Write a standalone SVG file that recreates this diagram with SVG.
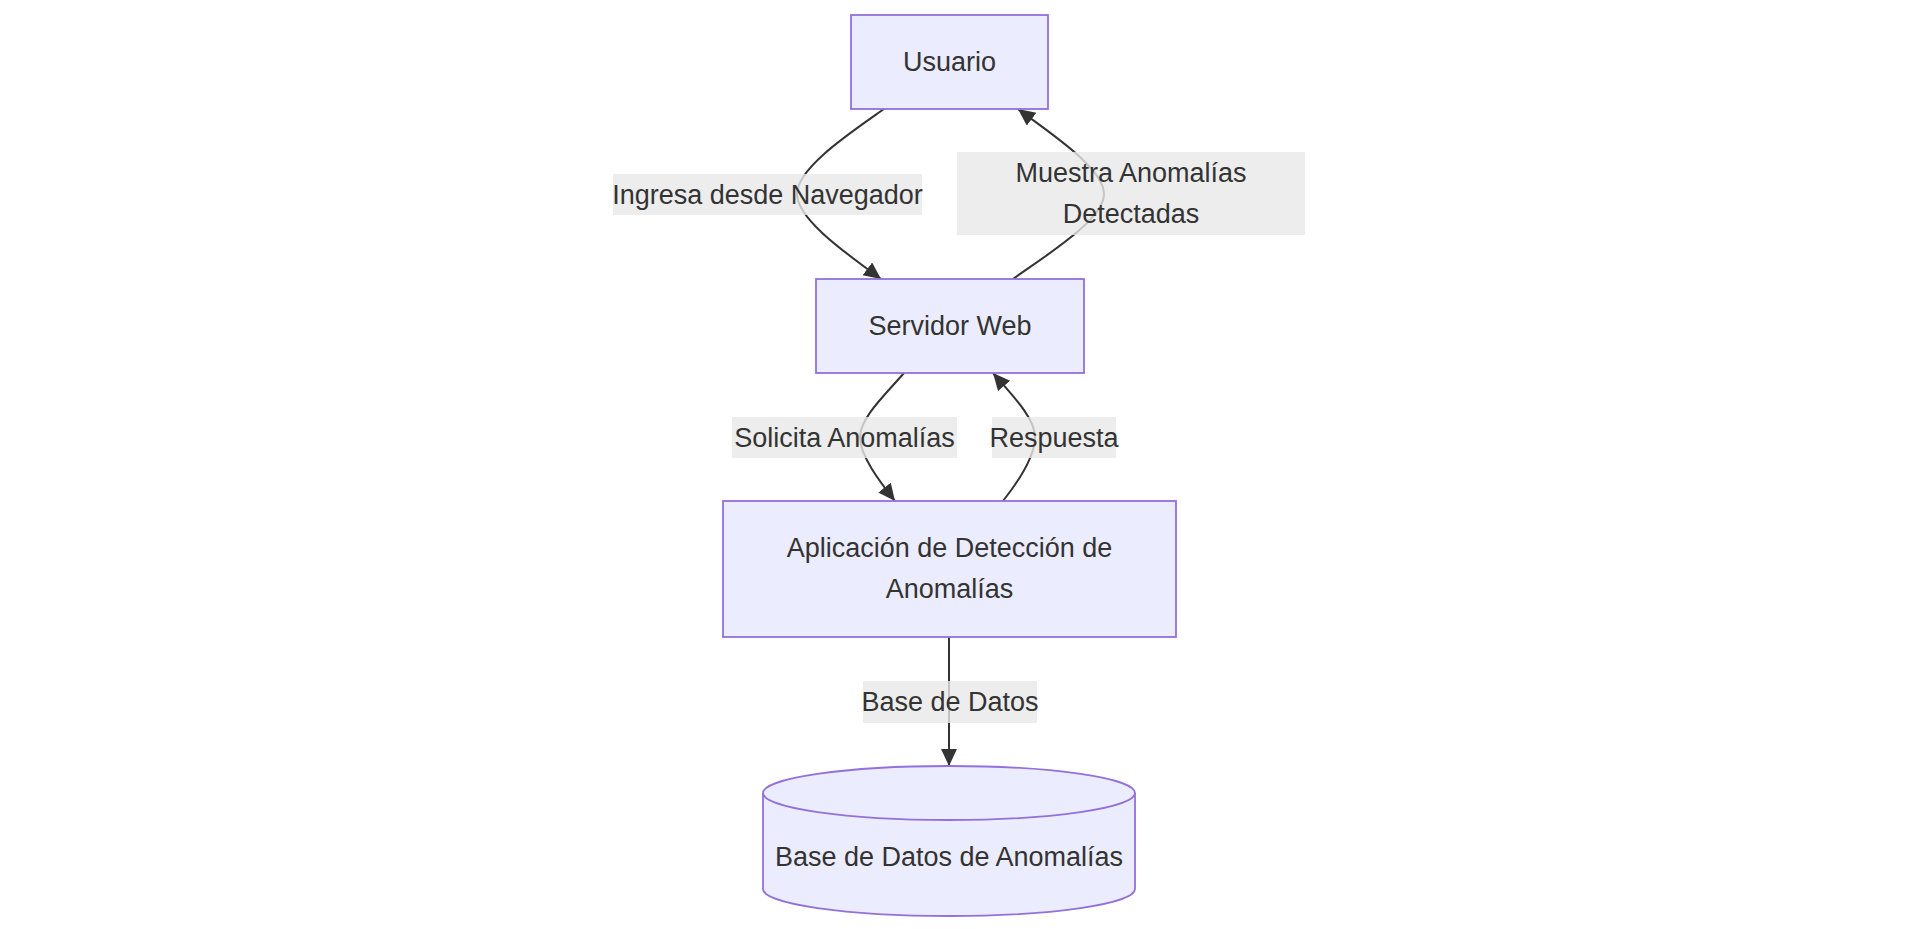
<svg xmlns="http://www.w3.org/2000/svg" width="1918" height="929" viewBox="0 0 1918 929">
<style>
.node{fill:#ECECFF;stroke:#9370DB;stroke-width:1.8}
.t{font-family:"Liberation Sans",Arial,sans-serif;font-size:27px;fill:#333333;text-anchor:middle;dominant-baseline:central}
.edge{fill:none;stroke:#333333;stroke-width:2}
.lbg{fill:#e8e8e8;fill-opacity:0.8}
</style>
<defs>
<marker id="arrow" markerUnits="userSpaceOnUse" markerWidth="18" markerHeight="18" refX="17" refY="8" orient="auto" viewBox="0 0 18 18">
<path d="M0,0 L17,8 L0,16 z" fill="#333333"/>
</marker>
</defs>
<rect width="1918" height="929" fill="#ffffff"/>
<g id="connectors">
<path class="edge" d="M884,109 C850,133 797,168 797,194 C797,220 850,256 881,279" marker-end="url(#arrow)"/>
<path class="edge" d="M1013,279 C1045,256 1104,220 1104,194 C1104,168 1050,133 1018,109" marker-end="url(#arrow)"/>
<path class="edge" d="M904,373 C885,395 860,418 860,437 C860,456 880,482 895,501" marker-end="url(#arrow)"/>
<path class="edge" d="M1003,501 C1018,482 1035,456 1035,437 C1035,418 1012,395 993,373" marker-end="url(#arrow)"/>
<path class="edge" d="M949,637 L949,766" marker-end="url(#arrow)"/>
</g>
<g id="edge-labels">
<g id="label-ingresa">
<rect class="lbg" x="613" y="174" width="309" height="41"/>
<text class="t" x="767.5" y="195">Ingresa desde Navegador</text>
</g>
<g id="label-muestra">
<rect class="lbg" x="957" y="152" width="348" height="83"/>
<text class="t" x="1131" y="173">Muestra Anomalías</text>
<text class="t" x="1131" y="214">Detectadas</text>
</g>
<g id="label-solicita">
<rect class="lbg" x="732" y="417" width="225" height="41"/>
<text class="t" x="844.5" y="438">Solicita Anomalías</text>
</g>
<g id="label-respuesta">
<rect class="lbg" x="992" y="417" width="124" height="41"/>
<text class="t" x="1054" y="438">Respuesta</text>
</g>
<g id="label-base">
<rect class="lbg" x="863" y="681" width="174" height="42"/>
<text class="t" x="950" y="702">Base de Datos</text>
</g>
</g>
<g id="usuario">
<rect class="node" x="851" y="15" width="197" height="94"/>
<text class="t" x="949.5" y="62">Usuario</text>
</g>
<g id="servidor">
<rect class="node" x="816" y="279" width="268" height="94"/>
<text class="t" x="950" y="326">Servidor Web</text>
</g>
<g id="aplicacion">
<rect class="node" x="723" y="501" width="453" height="136"/>
<text class="t" x="949.5" y="548">Aplicación de Detección de</text>
<text class="t" x="949.5" y="589">Anomalías</text>
</g>
<g id="basedatos">
<path class="node" d="M763,793 A186,27 0 0 1 1135,793 L1135,889 A186,27 0 0 1 763,889 Z"/>
<path class="node" style="fill:none" d="M763,793 A186,27 0 0 0 1135,793"/>
<text class="t" x="949" y="857">Base de Datos de Anomalías</text>
</g>
</svg>
